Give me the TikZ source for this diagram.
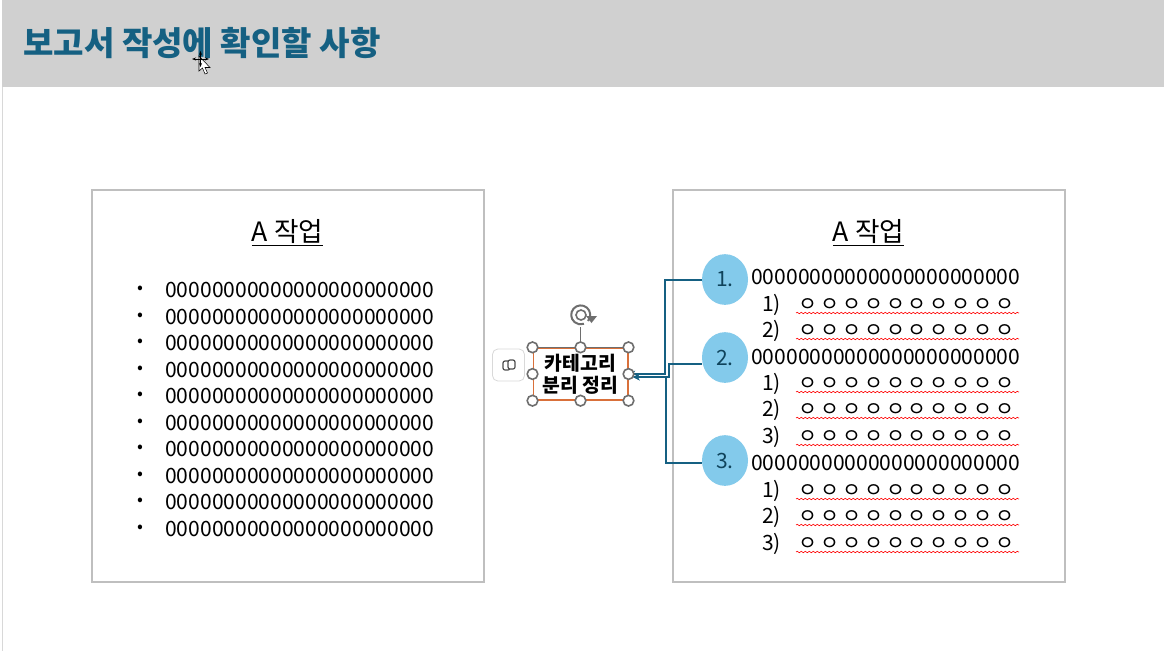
\documentclass[tikz,border=0pt]{standalone}
\usepackage{fontspec}
\setmainfont{Noto Sans CJK KR}
\usetikzlibrary{arrows.meta,shapes.geometric,decorations.pathmorphing}
\definecolor{headgray}{HTML}{D0D0D0}
\definecolor{framegray}{HTML}{BFBFBF}
\definecolor{titleblue}{HTML}{156082}
\definecolor{bubble}{HTML}{83CAEB}
\definecolor{selorange}{HTML}{D9703A}
\definecolor{handlegray}{HTML}{6E6E6E}
\newcommand{\rings}{ㅇ\hspace{2.1pt}ㅇ\hspace{2.1pt}ㅇ\hspace{2.1pt}ㅇ\hspace{2.1pt}ㅇ\hspace{2.1pt}ㅇ\hspace{2.1pt}ㅇ\hspace{2.1pt}ㅇ\hspace{2.1pt}ㅇ\hspace{2.1pt}ㅇ}
\newcommand{\zeros}{00000000000000000000000}
\begin{document}
\begin{tikzpicture}[
    x=0.75pt, y=-0.75pt,
    every node/.style={inner sep=0pt, font=\fontsize{15.8pt}{18pt}\selectfont},
    frame/.style={draw=framegray, line width=1.5pt, minimum width=294pt, minimum height=294pt},
    head/.style={font=\fontsize{20pt}{24pt}\selectfont, anchor=center},
    zeroline/.style={anchor=west},
    numlabel/.style={anchor=west},
    ringline/.style={anchor=center, font=\fontsize{15.5pt}{18pt}\selectfont},
    squig/.style={red, line width=0.45pt, decorate, decoration={snake, amplitude=0.55pt, segment length=3pt}},
    bub/.style={ellipse, fill=bubble, minimum width=34.5pt, minimum height=38pt, text=titleblue!70!black},
    link/.style={titleblue, line width=1.5pt},
    grip/.style={circle, draw=handlegray, fill=white, line width=1.2pt, minimum size=8pt},
]
\useasboundingbox (0,0) rectangle (1164,651);
% header band
\fill[white] (0,0) rectangle (1164,651);
\fill[framegray!60] (2,87) rectangle (3,651);
\fill[headgray] (2,0) rectangle (1164,87);
\node[anchor=west, text=titleblue, font=\fontsize{24.8pt}{28pt}\selectfont\bfseries] (title) at (23,43) {보고서 작성에 확인할 사항};
% mouse cursor
\draw[black, fill=white, line width=0.4pt] (199,56) -- (199,71) -- (202.5,68) -- (205,74) -- (207.5,73) -- (205,67.5) -- (210,67.5) -- cycle;
\draw[black, line width=0.6pt, {Stealth[length=3pt]}-{Stealth[length=3pt]}] (192,59) -- (209,59);
\draw[black, line width=0.6pt, {Stealth[length=3pt]}-{Stealth[length=3pt]}] (200.5,51) -- (200.5,67);

% left panel
\node[frame] (boxL) at (288,386) {};
\node[head] (headL) at (287.5,233) {\underline{A 작업}};
\foreach \n/\y in {0/290,1/317,2/343,3/370,4/396,5/423,6/449,7/476,8/502,9/529}{
    \node[font=\fontsize{13pt}{14pt}\selectfont] (dot\n) at (140,\y) {•};
    \node[zeroline] (row\n) at (165,\y) {\zeros};
}

% right panel
\node[frame] (boxR) at (869,386) {};
\node[head] (headR) at (868.5,233) {\underline{A 작업}};

% numbered bubbles
\node[bub] (one) at (725,279.5) {1.};
\node[bub] (two) at (725,357.5) {2.};
\node[bub] (three) at (725,460.5) {3.};
\node[zeroline] (lineA) at (751,277) {\zeros};
\node[zeroline] (lineB) at (751,357) {\zeros};
\node[zeroline] (lineC) at (751,463) {\zeros};

% sub items with spelling marks
\foreach \n/\t/\y in {a/1/305,b/2/331,c/1/384,d/2/410,e/3/437,f/1/491,g/2/517,h/3/544}{
    \node[numlabel] (num\n) at (762,\y) {\t)};
    \node[ringline] (ring\n) at (906.5,\y) {\rings};
    \draw[squig] (796,\y+8) -- (1019,\y+8);
}

% selected box
\node[draw=selorange, line width=1pt, minimum width=71pt, minimum height=39pt, align=center,
      font=\fontsize{14.5pt}{16.5pt}\selectfont\bfseries] (cat) at (580.5,374) {카테고리\\분리 정리};
\draw[handlegray, line width=1pt] (cat.north west) -- (cat.north east);
\draw[handlegray, line width=1pt] (cat.north) -- (580.5,327);

% connectors
\draw[link, -{Stealth[length=5pt,width=5pt]}] (one.west) -- (665,279.5) |- (cat.east);
\draw[link, -{Stealth[length=5pt,width=5pt]}] (two.195) -| (669,377) -- (633,377);
\draw[link, -{Stealth[length=5pt,width=5pt]}] (three.186) -| (666,377) -- (633,377);

% handles
\foreach \a in {north west,north,north east,west,east,south west,south,south east}{
    \node[grip] at (cat.\a) {};
}

% rotate handle
\draw[handlegray, line width=1.5pt] (588,321) arc (40:-290:9.5);
\draw[handlegray, line width=1.2pt] (581,315) circle (5);
\fill[handlegray] (586,316) -- (597,316) -- (591.5,323) -- cycle;

% copilot button
\node[draw=black!15, rounded corners=4pt, line width=0.6pt, minimum width=24pt, minimum height=24pt] (copilot) at (508.5,365) {};
\draw[handlegray!70!black, line width=0.9pt, rounded corners=1.5pt, fill=white] (503,361) rectangle (510,370);
\draw[handlegray!70!black, line width=0.9pt, rounded corners=1.5pt, fill=white] (508,360) rectangle (515,369);
\end{tikzpicture}
\end{document}
